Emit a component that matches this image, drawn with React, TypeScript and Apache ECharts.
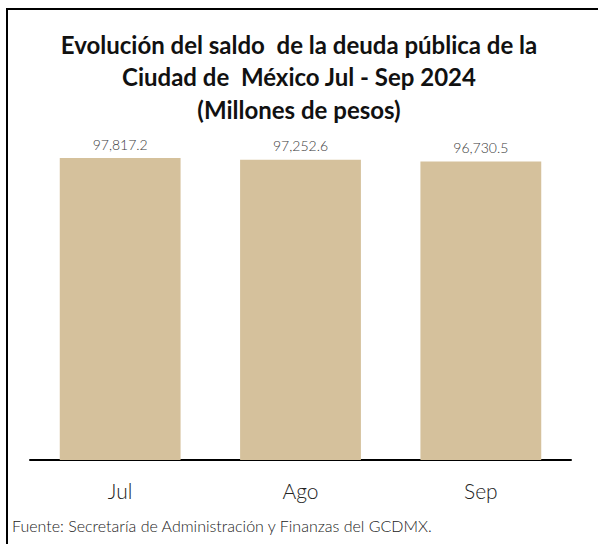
import React, { useEffect, useRef } from "react";
import * as echarts from "echarts";

const categories = ["Jul", "Ago", "Sep"];
const values = [97817.2, 97252.6, 96730.5];
const titleLines = [
  "Evolución del saldo  de la deuda pública de la",
  "Ciudad de  México Jul - Sep 2024",
  "(Millones de pesos)",
];
const sourceText = "Fuente: Secretaría de Administración y Finanzas del GCDMX.";

const fmt = (v: number) =>
  v.toLocaleString("en-US", { minimumFractionDigits: 1, maximumFractionDigits: 1 });

export default function App() {
  const ref = useRef<HTMLDivElement>(null);
  useEffect(() => {
    const chart = echarts.init(ref.current!, null, { renderer: "svg" });
    chart.setOption({
      animation: false,
      backgroundColor: "#ffffff",
      title: {
        text: titleLines.join("\n"),
        left: "center",
        top: 23,
        textStyle: {
          fontFamily: "Lato",
          fontWeight: "bold",
          fontSize: 24,
          lineHeight: 32.5,
          color: "#111111",
        },
      },
      grid: { left: 30, right: 27, top: 151.3, bottom: 84, containLabel: false },
      xAxis: {
        type: "category",
        data: categories,
        axisLine: { show: true, lineStyle: { color: "#000000", width: 2 } },
        axisTick: { show: false },
        axisLabel: {
          margin: 20,
          fontFamily: "Lato",
          fontWeight: 300,
          fontSize: 21,
          color: "#222222",
        },
      },
      yAxis: {
        type: "value",
        min: 0,
        max: 100000,
        show: false,
        splitLine: { show: false },
      },
      series: [
        {
          type: "bar",
          data: values,
          barCategoryGap: "33%",
          itemStyle: { color: "#D5C19C" },
          label: {
            show: true,
            position: "top",
            distance: 7,
            formatter: (p: any) => fmt(p.value),
            fontFamily: "Lato",
            fontWeight: 300,
            fontSize: 14,
            color: "#3a3a3a",
          },
        },
      ],
      graphic: [
        {
          type: "polyline",
          shape: { points: [[7, 544], [7, 9], [598, 9]] },
          style: { stroke: "#000000", lineWidth: 2, fill: "none" },
        },
        {
          type: "text",
          left: 12,
          top: 517,
          style: {
            text: sourceText,
            fontFamily: "Lato",
            fontWeight: 300,
            fontSize: 16,
            fill: "#222222",
          },
        },
      ],
    });
    return () => chart.dispose();
  }, []);
  return (
    <div
      ref={ref}
      style={{ position: "absolute", left: 0, top: 0, width: 598, height: 544 }}
    />
  );
}
